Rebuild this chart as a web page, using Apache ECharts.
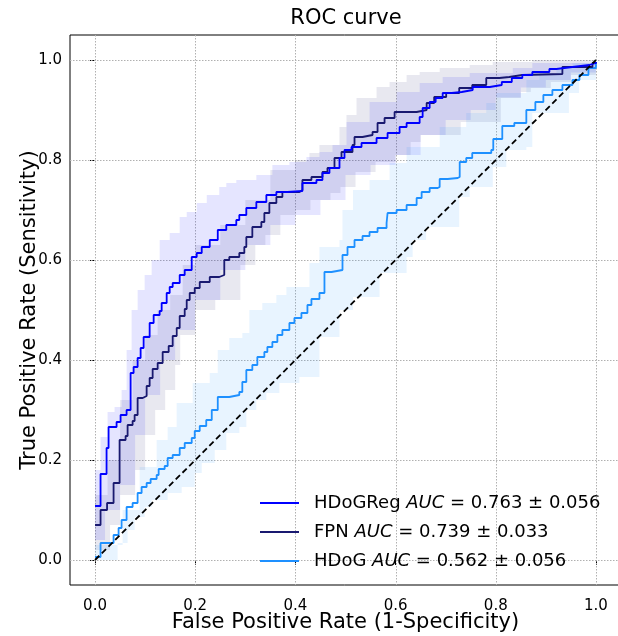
<!DOCTYPE html>
<html>
<head>
<meta charset="utf-8">
<script src="https://cdn.jsdelivr.net/npm/echarts@6/dist/echarts.min.js"></script>
<style>html,body{margin:0;padding:0;background:#fff;}#c{width:618px;height:636px;}</style>
</head>
<body>
<div id="c"></div>
<script>
// ---------- data ----------
const tickValues = [0, 0.2, 0.4, 0.6, 0.8, 1.0];
const seriesNames = ['HDoGReg', 'FPN', 'HDoG'];
const aucMean = ['0.763', '0.739', '0.562'];
const aucStd = ['0.056', '0.033', '0.056'];
const chanceFpr = [0, 1];
const chanceTpr = [0, 1];

const hdogregFpr = [0,0.011,0.023,0.027,0.043,0.051,0.063,0.071,0.077,0.085,0.091,0.097,0.109,0.117,0.129,0.133,0.143,0.149,0.155,0.169,0.179,0.193,0.203,0.213,0.229,0.245,0.262,0.282,0.288,0.302,0.322,0.342,0.362,0.384,0.414,0.442,0.454,0.468,0.488,0.498,0.512,0.532,0.562,0.584,0.608,0.622,0.648,0.654,0.668,0.680,0.694,0.712,0.732,0.754,0.788,0.812,0.832,0.853,0.873,0.907,0.921,0.953,0.987,1.0];
const hdogregTpr = [0.108,0.172,0.224,0.266,0.276,0.290,0.300,0.374,0.386,0.404,0.424,0.446,0.474,0.490,0.498,0.514,0.534,0.546,0.554,0.570,0.580,0.606,0.614,0.626,0.640,0.660,0.670,0.680,0.690,0.704,0.716,0.730,0.736,0.738,0.754,0.760,0.774,0.784,0.804,0.820,0.826,0.834,0.844,0.854,0.866,0.874,0.886,0.904,0.916,0.924,0.934,0.936,0.940,0.946,0.950,0.956,0.964,0.970,0.976,0.982,0.986,0.990,0.994,0.996];

const fpnFpr = [0,0.011,0.024,0.037,0.049,0.061,0.065,0.075,0.079,0.085,0.095,0.103,0.109,0.115,0.125,0.135,0.147,0.155,0.163,0.169,0.179,0.183,0.189,0.199,0.209,0.229,0.248,0.258,0.268,0.288,0.298,0.302,0.314,0.332,0.338,0.348,0.362,0.374,0.408,0.414,0.432,0.454,0.464,0.478,0.492,0.514,0.518,0.534,0.554,0.564,0.578,0.598,0.642,0.662,0.677,0.701,0.727,0.753,0.781,0.807,0.827,0.853,0.933,0.933,0.993,1.0];
const fpnTpr = [0.070,0.100,0.114,0.154,0.240,0.248,0.270,0.278,0.290,0.324,0.328,0.348,0.364,0.382,0.394,0.416,0.428,0.448,0.464,0.488,0.502,0.520,0.534,0.544,0.556,0.566,0.570,0.600,0.606,0.614,0.626,0.646,0.666,0.676,0.694,0.714,0.726,0.736,0.740,0.760,0.766,0.776,0.784,0.804,0.816,0.830,0.846,0.850,0.856,0.874,0.884,0.896,0.900,0.914,0.926,0.934,0.944,0.950,0.964,0.966,0.970,0.972,0.974,0.986,0.994,0.996];

const hdogFpr = [0,0.011,0.037,0.047,0.053,0.063,0.075,0.085,0.093,0.103,0.111,0.123,0.127,0.139,0.145,0.155,0.169,0.179,0.193,0.199,0.209,0.222,0.233,0.245,0.268,0.288,0.294,0.302,0.314,0.324,0.338,0.344,0.354,0.364,0.374,0.388,0.398,0.412,0.424,0.432,0.448,0.458,0.472,0.494,0.504,0.518,0.534,0.548,0.564,0.582,0.584,0.602,0.622,0.642,0.652,0.668,0.684,0.688,0.704,0.724,0.728,0.741,0.753,0.791,0.795,0.813,0.837,0.861,0.879,0.895,0.913,0.933,0.953,0.967,0.985,1.0];
const hdogTpr = [0.006,0.034,0.050,0.064,0.080,0.106,0.114,0.134,0.146,0.154,0.162,0.170,0.182,0.188,0.204,0.210,0.224,0.234,0.244,0.258,0.268,0.280,0.300,0.326,0.330,0.336,0.356,0.380,0.390,0.406,0.416,0.426,0.436,0.450,0.460,0.474,0.484,0.494,0.510,0.522,0.534,0.576,0.580,0.610,0.626,0.640,0.648,0.656,0.664,0.674,0.694,0.700,0.710,0.724,0.736,0.744,0.746,0.762,0.764,0.766,0.796,0.804,0.814,0.820,0.842,0.868,0.874,0.900,0.916,0.930,0.940,0.950,0.960,0.970,0.984,0.996];

// confidence bands (mean +/- std), upper and lower edges
const hdogregUpperFpr = [0,0.011,0.025,0.039,0.053,0.063,0.073,0.085,0.099,0.113,0.129,0.149,0.169,0.183,0.203,0.223,0.248,0.262,0.282,0.322,0.354,0.388,0.422,0.448,0.474,0.502,0.548,0.602,0.648,0.694,0.748,0.834,0.873,1.0];
const hdogregUpperTpr = [0.18,0.246,0.296,0.306,0.34,0.42,0.50,0.54,0.57,0.60,0.64,0.654,0.686,0.696,0.714,0.73,0.746,0.754,0.76,0.77,0.79,0.796,0.806,0.816,0.83,0.876,0.916,0.936,0.954,0.966,0.974,0.984,0.994,0.998];
const hdogregLowerFpr = [0,0.02,0.05,0.08,0.10,0.13,0.16,0.20,0.25,0.30,0.35,0.40,0.45,0.50,0.55,0.60,0.65,0.70,0.75,0.80,0.85,0.90,0.95,1.0];
const hdogregLowerTpr = [0.04,0.10,0.15,0.25,0.33,0.40,0.46,0.52,0.58,0.63,0.67,0.69,0.72,0.77,0.79,0.81,0.85,0.88,0.90,0.925,0.945,0.96,0.975,0.99];

const fpnUpperFpr = [0,0.025,0.05,0.075,0.10,0.125,0.15,0.175,0.20,0.25,0.30,0.35,0.40,0.428,0.448,0.488,0.502,0.522,0.562,0.588,0.622,0.648,0.688,0.748,0.794,0.873,1.0];
const fpnUpperTpr = [0.13,0.20,0.32,0.40,0.45,0.50,0.53,0.59,0.63,0.67,0.72,0.78,0.80,0.814,0.83,0.866,0.89,0.924,0.946,0.956,0.97,0.976,0.984,0.99,0.996,1.0,1.0];
const fpnLowerFpr = [0,0.03,0.05,0.08,0.10,0.12,0.14,0.16,0.17,0.20,0.24,0.29,0.32,0.34,0.37,0.40,0.43,0.47,0.49,0.52,0.56,0.60,0.63,0.65,0.73,0.81,0.85,0.87,0.91,0.95,1.0];
const fpnLowerTpr = [0.02,0.07,0.13,0.18,0.25,0.30,0.34,0.39,0.45,0.50,0.52,0.59,0.63,0.65,0.69,0.70,0.72,0.734,0.746,0.776,0.796,0.81,0.836,0.85,0.876,0.924,0.936,0.944,0.956,0.97,0.984];

const hdogUpperFpr = [0,0.055,0.089,0.123,0.145,0.163,0.195,0.229,0.245,0.268,0.294,0.308,0.334,0.362,0.382,0.428,0.448,0.488,0.494,0.515,0.548,0.588,0.622,0.688,0.741,0.781,0.801,0.861,0.887,0.921,0.953,1.0];
const hdogUpperTpr = [0.03,0.10,0.186,0.24,0.266,0.314,0.354,0.374,0.42,0.444,0.454,0.50,0.514,0.53,0.546,0.594,0.626,0.64,0.70,0.74,0.76,0.794,0.826,0.866,0.894,0.914,0.934,0.96,0.974,0.984,0.994,1.0];
const hdogLowerFpr = [0,0.019,0.045,0.065,0.079,0.099,0.113,0.145,0.173,0.199,0.213,0.239,0.262,0.288,0.302,0.322,0.342,0.368,0.408,0.448,0.488,0.515,0.568,0.622,0.634,0.661,0.727,0.727,0.748,0.794,0.821,0.861,0.873,0.946,0.966,1.0];
const hdogLowerTpr = [0,0,0.034,0.06,0.086,0.106,0.12,0.134,0.146,0.174,0.194,0.22,0.254,0.266,0.30,0.32,0.334,0.354,0.366,0.446,0.50,0.526,0.574,0.606,0.64,0.666,0.68,0.726,0.746,0.786,0.82,0.826,0.894,0.934,0.96,0.98];

// ---------- styling ----------
const FONT = 'DejaVu Sans';
const colors = ['#0000ff', '#191970', '#1e90ff'];
const bandColors = ['rgba(0,0,255,0.1)', 'rgba(25,25,112,0.1)', 'rgba(30,144,255,0.1)'];

const zip = (xs, ys) => xs.map((x, i) => [x, ys[i]]);

function stepPts(api, xs, ys) {
  const out = [];
  for (let i = 0; i < xs.length; i++) {
    if (i > 0) out.push(api.coord([xs[i], ys[i - 1]]));
    out.push(api.coord([xs[i], ys[i]]));
  }
  return out;
}

function bandSeries(upX, upY, loX, loY, color) {
  return {
    type: 'custom', silent: true, z: 2,
    data: [[0, 0]],
    renderItem: (params, api) => {
      const lo = stepPts(api, loX, loY);
      const up = stepPts(api, upX, upY).reverse();
      return { type: 'polygon', shape: { points: lo.concat(up) }, style: { fill: color, stroke: null } };
    }
  };
}

const gridSeries = {
  type: 'custom', silent: true, z: 1,
  data: [[0, 0]],
  renderItem: (params, api) => {
    const cs = params.coordSys;
    const children = [];
    const st = { stroke: '#b0b0b0', lineWidth: 1, lineDash: [1.5, 1.5] };
    tickValues.forEach(v => {
      const px = Math.round(api.coord([v, 0])[0]) + 0.5;
      children.push({ type: 'line', shape: { x1: px, y1: cs.y, x2: px, y2: cs.y + cs.height }, style: st });
      const py = Math.round(api.coord([0, v])[1]) + 0.5;
      children.push({ type: 'line', shape: { x1: cs.x, y1: py, x2: cs.x + cs.width, y2: py }, style: st });
    });
    return { type: 'group', children };
  }
};

function lineSeries(name, xs, ys, color) {
  return {
    name, type: 'line', z: 3, step: 'end', showSymbol: false, symbol: 'none',
    data: zip(xs, ys),
    lineStyle: { color, width: 1.8 }, itemStyle: { color },
    emphasis: { disabled: true }
  };
}

const chart = echarts.init(document.getElementById('c'), null, { renderer: 'canvas' });
chart.setOption({
  animation: false,
  backgroundColor: '#ffffff',
  textStyle: { fontFamily: FONT },
  title: {
    text: 'ROC curve', left: 346, top: 8, textAlign: 'center', padding: 0,
    textStyle: { fontFamily: FONT, fontSize: 21, fontWeight: 'normal', color: '#000' }
  },
  grid: { left: 70, top: 35, width: 551, height: 550, outerBoundsMode: 'none', containLabel: false,
          show: true, borderColor: '#000', borderWidth: 1, backgroundColor: 'transparent' },
  xAxis: {
    type: 'value', min: -0.05, max: 1.05,
    axisLine: { show: false },
    axisTick: { show: true, customValues: tickValues, length: 5, lineStyle: { color: '#000', width: 1 } },
    axisLabel: { customValues: tickValues, formatter: v => v.toFixed(1), fontSize: 15, color: '#000', margin: 14, fontFamily: FONT },
    splitLine: { show: false },
    name: 'False Positive Rate (1-Specificity)', nameLocation: 'middle', nameGap: 27, nameMoveOverlap: false,
    nameTextStyle: { fontSize: 21, color: '#000', fontFamily: FONT }
  },
  yAxis: {
    type: 'value', min: -0.05, max: 1.05,
    axisLine: { show: false },
    axisTick: { show: true, customValues: tickValues, length: 5, lineStyle: { color: '#000', width: 1 } },
    axisLabel: { customValues: tickValues, formatter: v => v.toFixed(1), fontSize: 15, color: '#000', margin: 8, fontFamily: FONT },
    splitLine: { show: false },
    name: 'True Positive Rate (Sensitivity)', nameLocation: 'middle', nameGap: 30, nameMoveOverlap: false,
    nameTextStyle: { fontSize: 21, color: '#000', fontFamily: FONT }
  },
  legend: {
    data: seriesNames, orient: 'vertical', left: 260, top: 493, padding: 0,
    icon: 'rect', itemWidth: 39, itemHeight: 2, itemGap: 9,
    selectedMode: false,
    formatter: name => {
      const i = seriesNames.indexOf(name);
      return name + ' {i|AUC} = ' + aucMean[i] + ' ± ' + aucStd[i];
    },
    textStyle: {
      fontFamily: FONT, fontSize: 18, color: '#000', lineHeight: 20, padding: [0, 0, 0, 10],
      rich: { i: { fontStyle: 'italic', fontFamily: FONT, fontSize: 18, color: '#000' } }
    }
  },
  series: [
    gridSeries,
    bandSeries(hdogregUpperFpr, hdogregUpperTpr, hdogregLowerFpr, hdogregLowerTpr, bandColors[0]),
    bandSeries(fpnUpperFpr, fpnUpperTpr, fpnLowerFpr, fpnLowerTpr, bandColors[1]),
    bandSeries(hdogUpperFpr, hdogUpperTpr, hdogLowerFpr, hdogLowerTpr, bandColors[2]),
    lineSeries(seriesNames[2], hdogFpr, hdogTpr, colors[2]),
    lineSeries(seriesNames[1], fpnFpr, fpnTpr, colors[1]),
    lineSeries(seriesNames[0], hdogregFpr, hdogregTpr, colors[0]),
    {
      type: 'line', z: 4, showSymbol: false, symbol: 'none', silent: true,
      data: zip(chanceFpr, chanceTpr),
      lineStyle: { color: '#000', width: 1.8, type: [6, 3.5] }
    }
  ]
});
</script>
</body>
</html>
